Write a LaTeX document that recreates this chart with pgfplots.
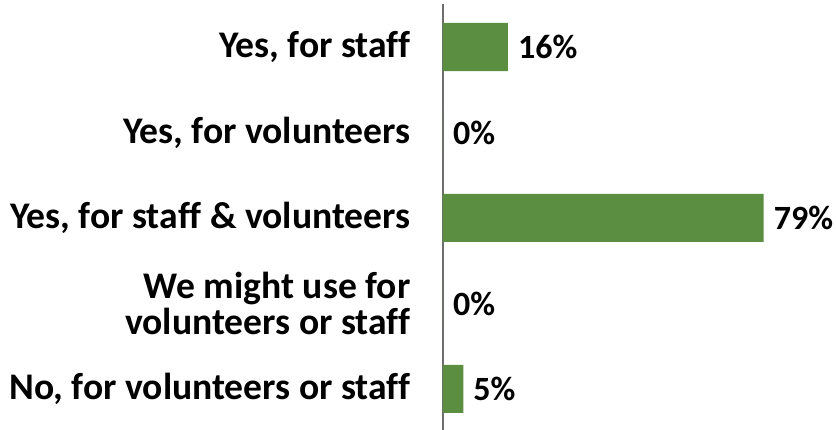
\documentclass[border=0pt]{standalone}
\usepackage{pgfplots}
\pgfplotsset{compat=1.18}
\usepackage{fontspec}
\setmainfont[Ligatures=CommonOff]{Carlito}
\definecolor{bargreen}{RGB}{91,142,64}
\definecolor{axisgray}{RGB}{110,110,110}
\begin{document}
\begin{tikzpicture}[x=1pt,y=1pt]
\begin{axis}[
  scale only axis,
  width=393pt, height=426pt,
  xbar, bar width=48pt,
  xmin=0, xmax=96.8,
  ymin=-0.503, ymax=4.48,
  y dir=reverse,
  axis x line=none,
  axis y line*=left,
  y axis line style={draw=axisgray, line width=1.5pt},
  ytick={0,1,2,3,4},
  yticklabels={{Yes, for staff},{Yes, for volunteers},{Yes, for staff \& volunteers},{We might use for\hspace{0.3em}\\volunteers or staff},{No, for volunteers or staff}},
  ytick style={draw=none},
  yticklabel style={font=\fontsize{37.6}{36}\selectfont\bfseries, align=right, anchor=east, inner sep=0pt, xshift=-28pt},
  nodes near coords={\pgfmathprintnumber[assume math mode=true]{\pgfplotspointmeta}\%},
  nodes near coords style={font=\fontsize{34}{34}\selectfont\bfseries, anchor=west, inner sep=0pt, xshift=10pt},
  point meta=x,
  clip=false,
]
\addplot[fill=bargreen, draw=none] coordinates {(16,0) (0,1) (79,2) (0,3) (5,4)};
\end{axis}
\pgfresetboundingbox
\path[use as bounding box] ([xshift=-443pt]current axis.south west) rectangle ([yshift=4pt]current axis.north east);
\end{tikzpicture}
\end{document}
